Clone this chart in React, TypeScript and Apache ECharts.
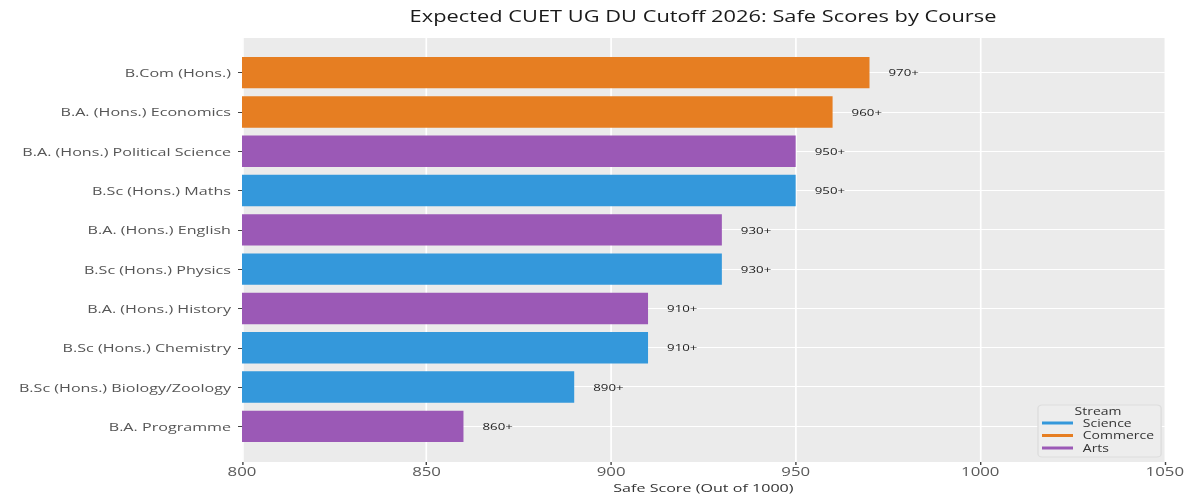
import React, { useEffect, useRef } from "react";
import * as echarts from "echarts";

const TITLE = "Expected CUET UG DU Cutoff 2026: Safe Scores by Course";
const X_NAME = "Safe Score (Out of 1000)";
const COURSES = [
  "B.Com (Hons.)",
  "B.A. (Hons.) Economics",
  "B.A. (Hons.) Political Science",
  "B.Sc (Hons.) Maths",
  "B.A. (Hons.) English",
  "B.Sc (Hons.) Physics",
  "B.A. (Hons.) History",
  "B.Sc (Hons.) Chemistry",
  "B.Sc (Hons.) Biology/Zoology",
  "B.A. Programme",
];
const SCORES = [970, 960, 950, 950, 930, 930, 910, 910, 890, 860];
const STREAM_OF = [
  "Commerce",
  "Commerce",
  "Arts",
  "Science",
  "Arts",
  "Science",
  "Arts",
  "Science",
  "Science",
  "Arts",
];
const STREAMS = ["Science", "Commerce", "Arts"];
const STREAM_COLORS = ["#3498DB", "#E67E22", "#9B59B6"];
const X_MIN = 800;
const X_MAX = 1050;
const X_STEP = 50;

const FONT = "Open Sans";
// the reference is rendered horizontally stretched; reproduce with a CSS scaleX
const S = 1.4;
const W = 1200 / S;
const H = 500;
const hx = (v: number) => v / S;

export default function App() {
  const ref = useRef<HTMLDivElement>(null);
  useEffect(() => {
    if (!ref.current) return;
    const chart = echarts.init(ref.current, null, { renderer: "svg" });
    const PL = hx(242), PR = hx(35), PT = 38, PB = 38;
    const barTop = 53, barBottom = 54;
    const lineTop = 72.5, lineBottom = 74;

    const series: any[] = STREAMS.map((s, si) => ({
      name: s,
      type: "bar",
      xAxisIndex: 1,
      yAxisIndex: 1,
      barGap: "-100%",
      barCategoryGap: "20%",
      z: 2,
      itemStyle: { color: STREAM_COLORS[si] },
      label: {
        show: true,
        position: "right",
        distance: hx(19),
        fontFamily: FONT,
        fontSize: 9.5,
        color: "#222",
        formatter: (p: any) => `${p.value}+`,
      },
      data: SCORES.map((v, i) => (STREAM_OF[i] === s ? v : "-")),
    }));

    chart.setOption({
      animation: false,
      textStyle: { fontFamily: FONT },
      grid: [
        { left: PL, right: PR, top: PT, bottom: PB, show: true, backgroundColor: "#ebebeb", borderWidth: 0, containLabel: false },
        { left: PL, right: PR, top: barTop, bottom: barBottom, containLabel: false },
        { left: PL, right: PR, top: lineTop, bottom: lineBottom, containLabel: false },
      ],
      xAxis: [
        {
          type: "value",
          gridIndex: 0,
          min: X_MIN,
          max: X_MAX,
          interval: X_STEP,
          axisLine: { show: false },
          axisTick: { show: true, length: 3, lineStyle: { color: "#444" } },
          axisLabel: { color: "#5a5a5a", fontSize: 12, fontFamily: FONT, margin: 3, formatter: (v: number) => String(v) },
          splitLine: { show: true, lineStyle: { color: "#ffffff", width: 1.2 } },
          name: X_NAME,
          nameLocation: "middle",
          nameGap: 17,
          nameTextStyle: { color: "#333", fontSize: 11.5, fontFamily: FONT },
        },
        { type: "value", gridIndex: 1, min: X_MIN, max: X_MAX, show: false },
        { type: "value", gridIndex: 2, min: X_MIN, max: X_MAX, show: false },
      ],
      yAxis: [
        { type: "value", gridIndex: 0, show: false },
        {
          type: "category",
          gridIndex: 1,
          inverse: true,
          data: COURSES,
          axisLine: { show: false },
          axisTick: { show: true, length: hx(4), alignWithLabel: true, lineStyle: { color: "#444" } },
          axisLabel: { color: "#555", fontSize: 11.5, fontFamily: FONT, margin: hx(11), interval: 0 },
          splitLine: { show: false },
        },
        {
          type: "category",
          gridIndex: 2,
          inverse: true,
          boundaryGap: false,
          data: COURSES,
          axisLine: { show: false },
          axisTick: { show: false },
          axisLabel: { show: false, interval: 0 },
          splitLine: { show: true, interval: 0, lineStyle: { color: "#ffffff", width: 1 } },
        },
      ],
      legend: {
        data: STREAMS,
        orient: "vertical",
        left: hx(1038),
        top: 405,
        padding: [12.5, hx(7), 3.5, hx(4)],
        itemGap: 1.5,
        itemWidth: hx(31),
        itemHeight: 3,
        itemStyle: { borderWidth: 0 },
        icon: "rect",
        textStyle: { fontSize: 10, lineHeight: 11, color: "#333", fontFamily: FONT, padding: [0, 0, 0, 2] },
        backgroundColor: "#ededed",
        borderColor: "#dddddd",
        borderWidth: 1,
        borderRadius: 3,
      },
      graphic: [
        {
          type: "text",
          x: hx(703),
          y: 16,
          z: 100,
          style: {
            text: TITLE,
            textAlign: "center",
            textVerticalAlign: "middle",
            fontFamily: FONT,
            fontSize: 15.6,
            fill: "#1a1a1a",
          },
        },
        {
          type: "text",
          x: hx(1098),
          y: 411,
          z: 100,
          style: {
            text: "Stream",
            textAlign: "center",
            textVerticalAlign: "middle",
            fontFamily: FONT,
            fontSize: 10,
            fill: "#333",
          },
        },
      ],
      series,
    });
    return () => chart.dispose();
  }, []);
  return (
    <div
      ref={ref}
      style={{
        position: "fixed",
        left: 0,
        top: 0,
        width: W,
        height: H,
        transform: `scaleX(${S})`,
        transformOrigin: "0 0",
      }}
    />
  );
}
